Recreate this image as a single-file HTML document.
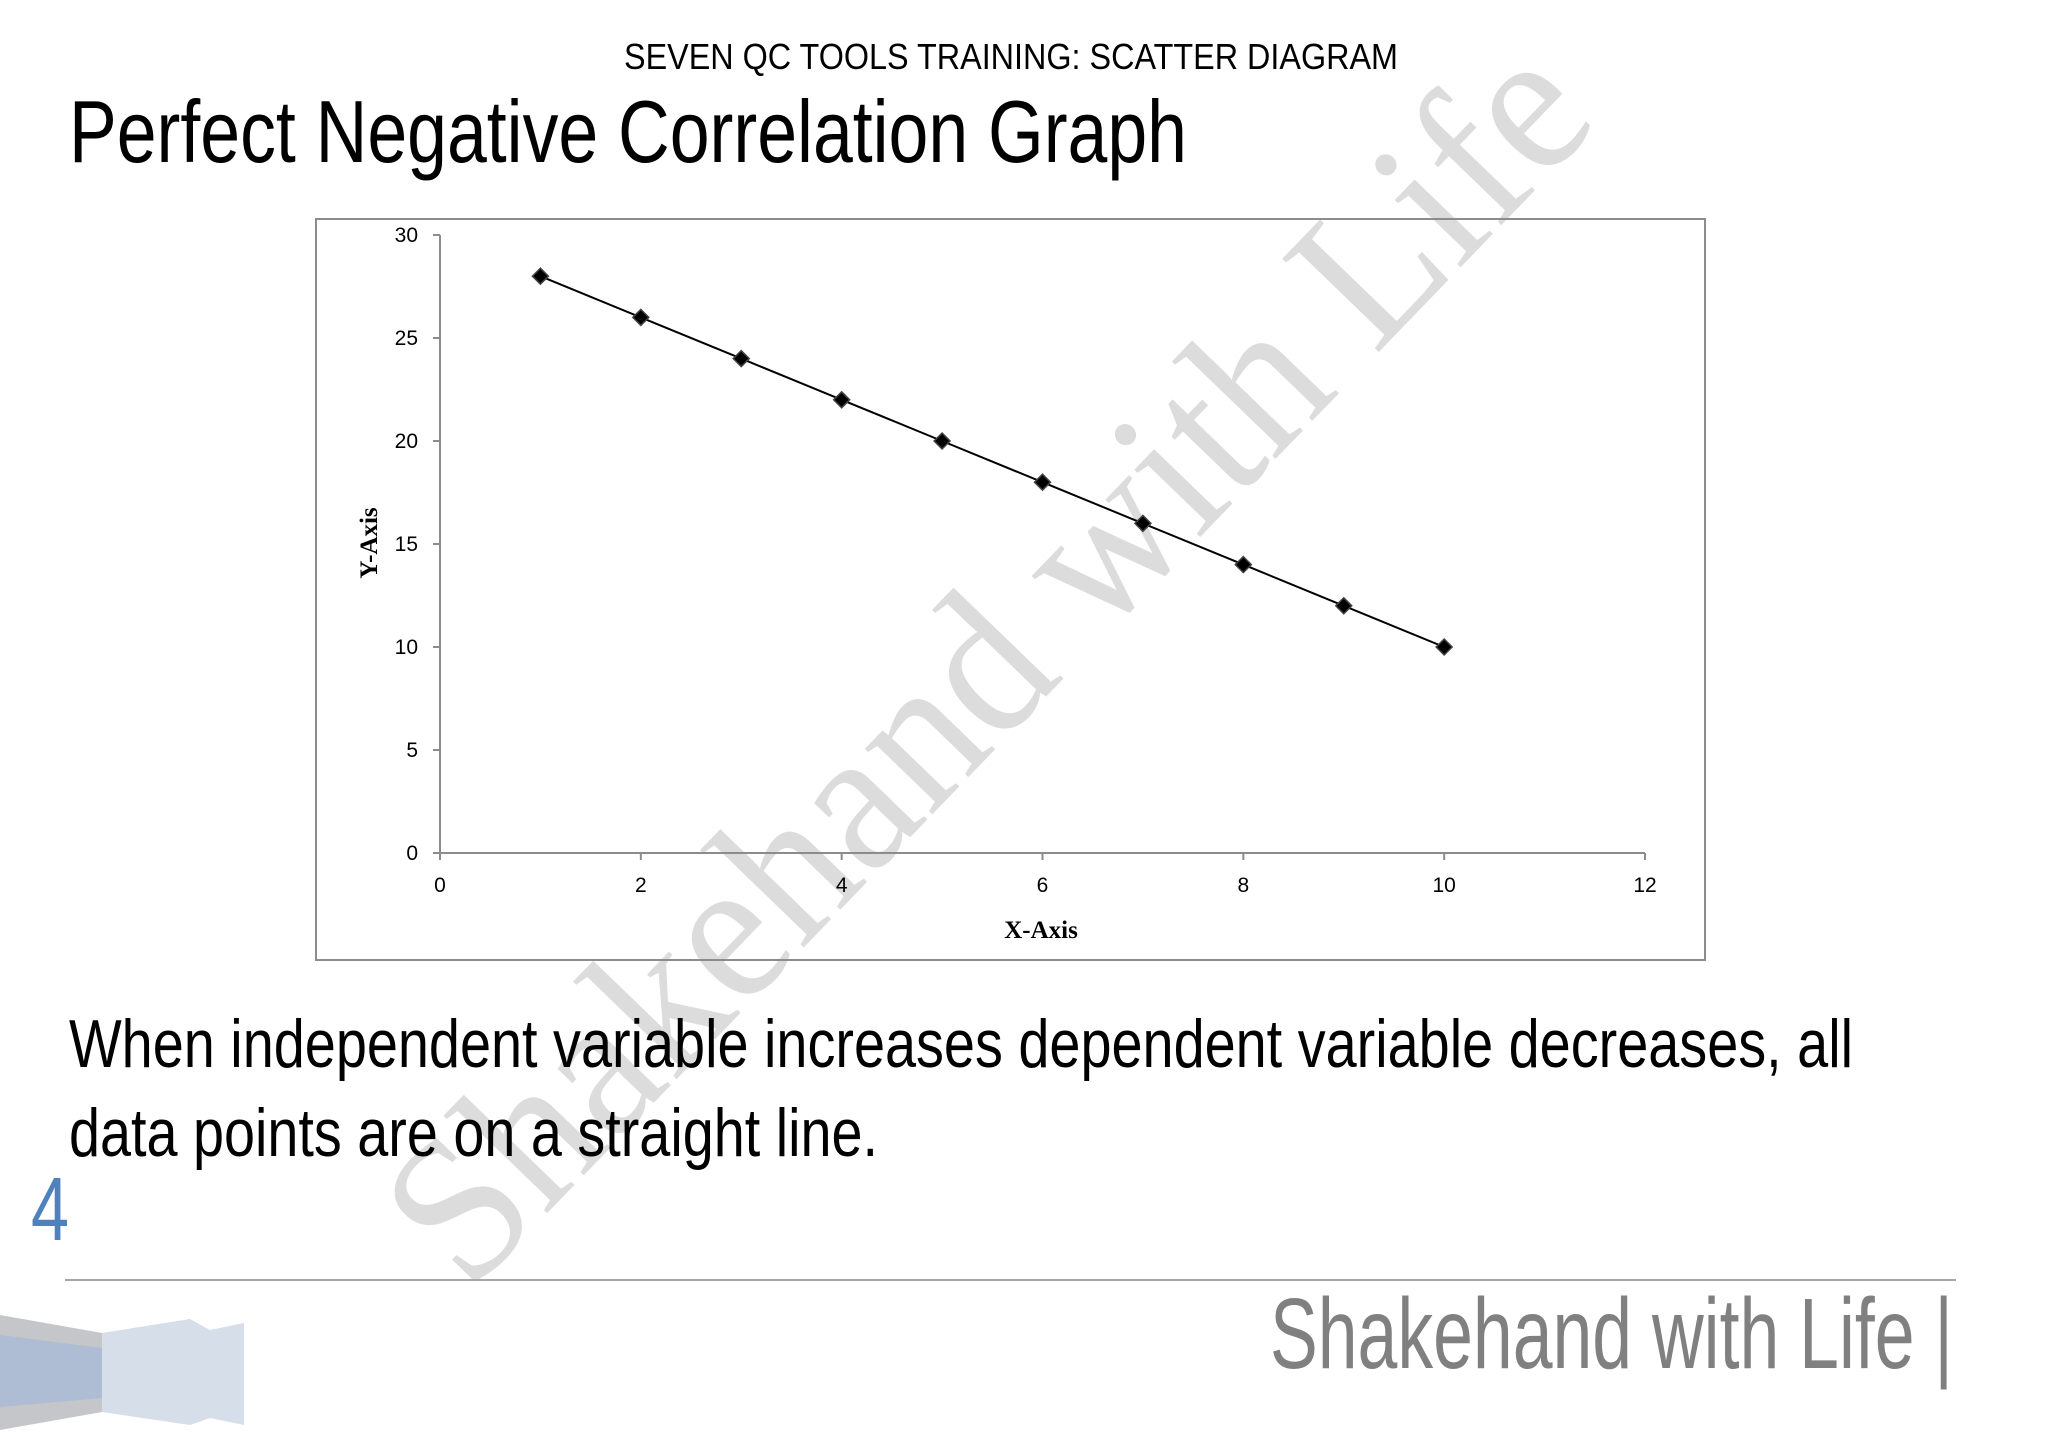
<!DOCTYPE html>
<html><head><meta charset="utf-8"><style>
html,body{margin:0;padding:0;background:#fff;width:2048px;height:1448px;overflow:hidden}
svg{display:block}
</style></head><body>
<svg id="page" width="2048" height="1448" viewBox="0 0 2048 1448" xmlns="http://www.w3.org/2000/svg">
<g transform="translate(-25 0)">
<text x="1060" y="1533" transform="rotate(-46 1060 708) translate(0 -825)" font-family="Liberation Serif, serif" font-size="205" fill="#dcdcdc" text-anchor="middle" textLength="1630" lengthAdjust="spacingAndGlyphs">Shakehand with Life</text>
</g>
<text x="624" y="69" font-family="Liberation Sans, sans-serif" font-size="36" fill="#000" textLength="774" lengthAdjust="spacingAndGlyphs">SEVEN QC TOOLS TRAINING:  SCATTER DIAGRAM</text>
<text x="69" y="162" font-family="Liberation Sans, sans-serif" font-size="88" fill="#000" textLength="1118" lengthAdjust="spacingAndGlyphs">Perfect Negative Correlation Graph</text>
<rect x="316" y="219" width="1389" height="741" fill="none" stroke="#8c8c8c" stroke-width="2"/>
<g id="chart"></g>
<text x="69" y="1067" font-family="Liberation Sans, sans-serif" font-size="68" fill="#000" textLength="1784" lengthAdjust="spacingAndGlyphs">When independent variable increases dependent variable decreases, all</text>
<text x="69" y="1156" font-family="Liberation Sans, sans-serif" font-size="68" fill="#000" textLength="809" lengthAdjust="spacingAndGlyphs">data points are on a straight line.</text>
<text x="31" y="1240" font-family="Liberation Sans, sans-serif" font-size="90" fill="#4f81bd" textLength="38" lengthAdjust="spacingAndGlyphs">4</text>
<line x1="65" y1="1280" x2="1956" y2="1280" stroke="#a6a6a6" stroke-width="2"/>
<text x="1270" y="1368" font-family="Liberation Sans, sans-serif" font-size="100" fill="#808080" textLength="683" lengthAdjust="spacingAndGlyphs">Shakehand with Life |</text>
<g>
<polygon points="0,1315 102,1333 102,1412 0,1430" fill="#c4c6c9"/>
<polygon points="0,1335 102,1348 102,1398 0,1407" fill="#aebdd3"/>
<polygon points="102,1333 190,1319 210,1330 244,1323 244,1425 210,1418 190,1425 102,1412" fill="#d6dee9"/>
</g>
</svg>
<script>
const xValues = [1,2,3,4,5,6,7,8,9,10];
const yValues = [28,26,24,22,20,18,16,14,12,10];
const xTicks = [0,2,4,6,8,10,12];
const yTicks = [0,5,10,15,20,25,30];
const NS = 'http://www.w3.org/2000/svg';
const g = document.getElementById('chart');
const X0 = 440, X1 = 1645, Y0 = 853, Y1 = 235;
function sx(v){ return X0 + (v - 0) / (12 - 0) * (X1 - X0); }
function sy(v){ return Y0 - (v - 0) / (30 - 0) * (Y0 - Y1); }
function mk(tag, attrs){ const e = document.createElementNS(NS, tag); for (const k in attrs) e.setAttribute(k, attrs[k]); g.appendChild(e); return e; }
let ax = mk('line', {x1:X0, y1:Y0, x2:X1, y2:Y0, stroke:'#8c8c8c', 'stroke-width':2});


let ay = mk('line', {x1:X0, y1:Y0, x2:X0, y2:Y1, stroke:'#8c8c8c', 'stroke-width':2});


xTicks.forEach(t => {
  const tk = mk('line', {x1:sx(t), y1:Y0, x2:sx(t), y2:Y0+7, stroke:'#8c8c8c', 'stroke-width':2});
  
  
  const lb = mk('text', {x:sx(t), y:892, 'font-family':'Liberation Sans, sans-serif', 'font-size':21, 'text-anchor':'middle', fill:'#000'});
  lb.textContent = t;
  
  
});
yTicks.forEach(t => {
  const tk = mk('line', {x1:X0-7, y1:sy(t), x2:X0, y2:sy(t), stroke:'#8c8c8c', 'stroke-width':2});
  
  
  const lb = mk('text', {x:418, y:sy(t)+7, 'font-family':'Liberation Sans, sans-serif', 'font-size':21, 'text-anchor':'end', fill:'#000'});
  lb.textContent = t;
  
  
});
const xt = mk('text', {x:1041, y:938, 'font-family':'Liberation Serif, serif', 'font-size':25, 'font-weight':'bold', 'text-anchor':'middle', fill:'#000'});
xt.textContent = 'X-Axis';


const yt = mk('text', {x:377, y:543, 'font-family':'Liberation Serif, serif', 'font-size':25, 'font-weight':'bold', 'text-anchor':'middle', fill:'#000', transform:'rotate(-90 377 543)'});
yt.textContent = 'Y-Axis';


const pts = xValues.map((x, i) => sx(x) + ',' + sy(yValues[i])).join(' ');
const ln = mk('polyline', {points:pts, fill:'none', stroke:'#000', 'stroke-width':2});


xValues.forEach((x, i) => {
  const cx = sx(x), cy = sy(yValues[i]), r = 8;
  const m = mk('polygon', {points:`${cx},${cy-r} ${cx+r},${cy} ${cx},${cy+r} ${cx-r},${cy}`, fill:'#000', stroke:'#444', 'stroke-width':1.5});
  
  
});
</script>
</body></html>
